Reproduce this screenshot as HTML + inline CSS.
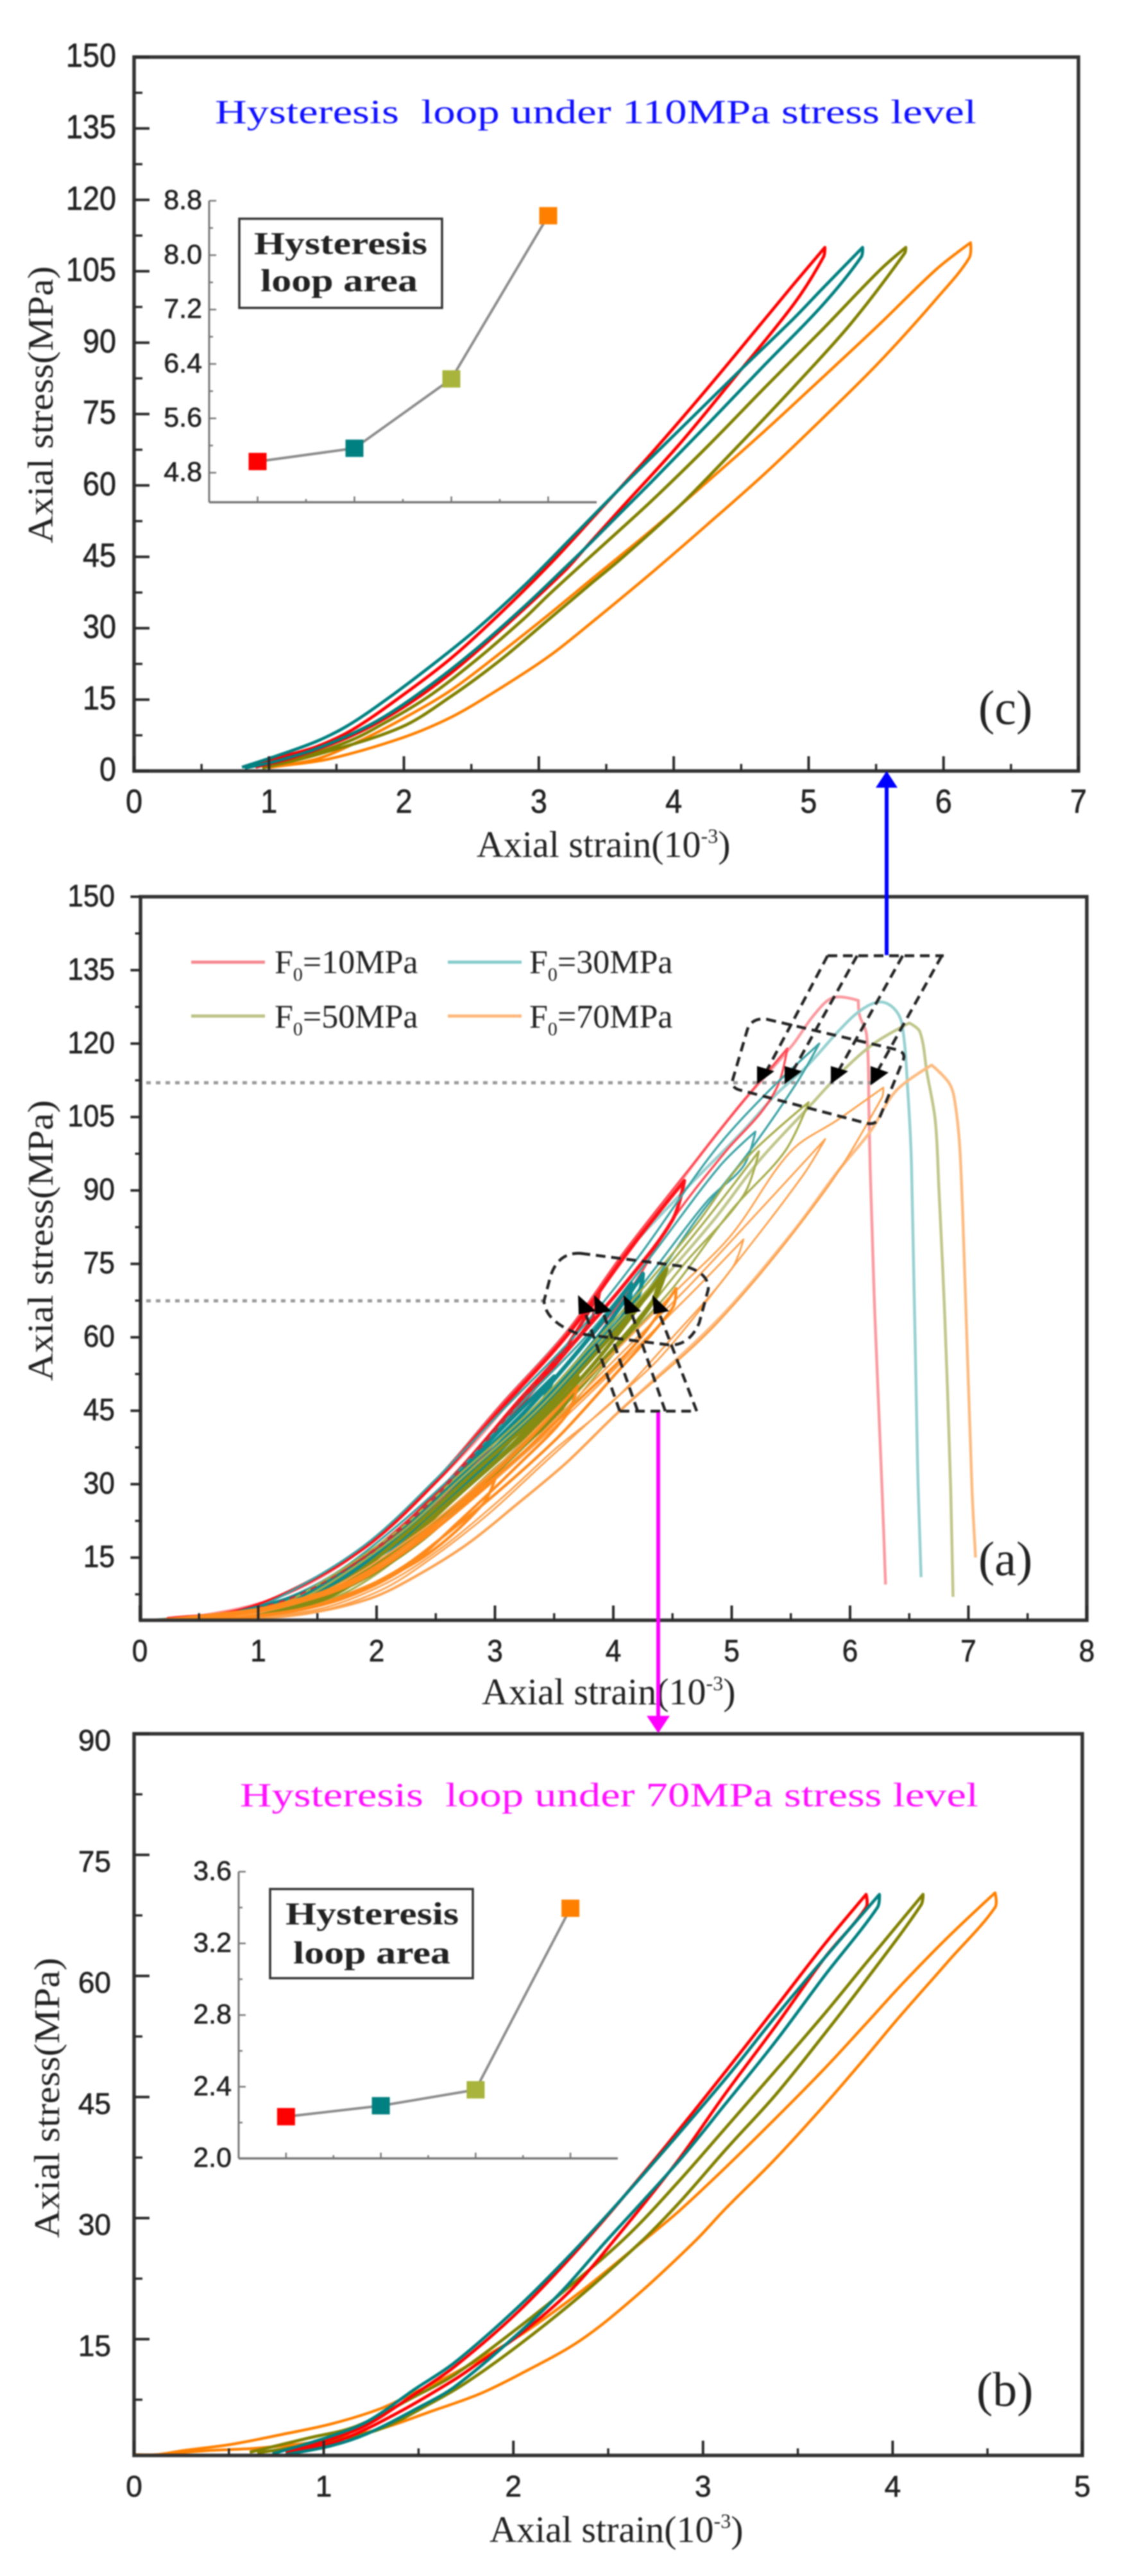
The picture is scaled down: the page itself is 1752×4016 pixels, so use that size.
<!DOCTYPE html>
<html>
<head>
<meta charset="utf-8">
<title>Hysteresis loop charts</title>
<style>
html,body{margin:0;padding:0;background:#fff;}
svg{display:block;filter:blur(1.1px);}
text{font-family:"Liberation Serif",serif;fill:#222;}
.sans{font-family:"Liberation Sans",sans-serif;stroke:#222;stroke-width:.7;}
</style>
</head>
<body>
<svg id="figure" xmlns="http://www.w3.org/2000/svg" width="1752" height="4016" viewBox="0 0 1752 4016">
  <rect x="0" y="0" width="1752" height="4016" fill="#fff"/>
  <g id="panel-c">
    <text x="335" y="192" font-size="53" textLength="1187" lengthAdjust="spacingAndGlyphs" xml:space="preserve" style="fill:#1010ff">Hysteresis  loop under 110MPa stress level</text>
    <text transform="translate(82,847) rotate(-90)" font-size="56" textLength="432" lengthAdjust="spacingAndGlyphs">Axial stress(MPa)</text>
    <text x="743" y="1336" font-size="58">Axial strain(10<tspan font-size="32" dy="-22">-3</tspan><tspan dy="22">)</tspan></text>
    <text x="1525" y="1129" font-size="76">(c)</text>
    <rect x="373" y="341" width="316" height="139" fill="#fff" stroke="#333" stroke-width="3.5"/>
    <text x="396" y="396" font-size="50" font-weight="bold" textLength="270" lengthAdjust="spacingAndGlyphs">Hysteresis</text>
    <text x="406" y="454" font-size="50" font-weight="bold" textLength="245" lengthAdjust="spacingAndGlyphs">loop area</text>
  </g>
  <g id="panel-a">
    <text transform="translate(82,2153) rotate(-90)" font-size="56" textLength="438" lengthAdjust="spacingAndGlyphs">Axial stress(MPa)</text>
    <text x="751" y="2657" font-size="58">Axial strain(10<tspan font-size="32" dy="-22">-3</tspan><tspan dy="22">)</tspan></text>
    <text x="1525" y="2456" font-size="76">(a)</text>
    <g>
      <line x1="298" x2="413" y1="1500" y2="1500" stroke="#f58a90" stroke-width="5"/>
      <text x="428" y="1517" font-size="52">F<tspan font-size="30" dy="12">0</tspan><tspan dy="-12">=10MPa</tspan></text>
      <line x1="698" x2="813" y1="1500" y2="1500" stroke="#86cccc" stroke-width="5"/>
      <text x="825" y="1517" font-size="52">F<tspan font-size="30" dy="12">0</tspan><tspan dy="-12">=30MPa</tspan></text>
      <line x1="298" x2="413" y1="1584" y2="1584" stroke="#bcc286" stroke-width="5"/>
      <text x="428" y="1602" font-size="52">F<tspan font-size="30" dy="12">0</tspan><tspan dy="-12">=50MPa</tspan></text>
      <line x1="698" x2="813" y1="1584" y2="1584" stroke="#fdb87c" stroke-width="5"/>
      <text x="825" y="1602" font-size="52">F<tspan font-size="30" dy="12">0</tspan><tspan dy="-12">=70MPa</tspan></text>
    </g>
  </g>
  <g id="panel-b">
    <text x="374" y="2816" font-size="53" textLength="1151" lengthAdjust="spacingAndGlyphs" xml:space="preserve" style="fill:#ff10ff">Hysteresis  loop under 70MPa stress level</text>
    <text transform="translate(92,3489) rotate(-90)" font-size="56" textLength="437" lengthAdjust="spacingAndGlyphs">Axial stress(MPa)</text>
    <text x="763" y="3963" font-size="58">Axial strain(10<tspan font-size="32" dy="-22">-3</tspan><tspan dy="22">)</tspan></text>
    <text x="1522" y="3751" font-size="76">(b)</text>
    <rect x="421" y="2945" width="316" height="139" fill="#fff" stroke="#333" stroke-width="3.5"/>
    <text x="445" y="3000" font-size="50" font-weight="bold" textLength="270" lengthAdjust="spacingAndGlyphs">Hysteresis</text>
    <text x="457" y="3061" font-size="50" font-weight="bold" textLength="245" lengthAdjust="spacingAndGlyphs">loop area</text>
  </g>
  <g id="annotations">
    <line x1="228" x2="1360" y1="1688" y2="1688" stroke="#9a9a9a" stroke-width="5" stroke-dasharray="7 8"/>
    <line x1="228" x2="880" y1="2028" y2="2028" stroke="#9a9a9a" stroke-width="5" stroke-dasharray="7 8"/>
    <g fill="none" stroke="#222" stroke-width="4.5" stroke-dasharray="15 9">
      <line x1="1290" y1="1490" x2="1471" y2="1490"/>
      <line x1="1290" y1="1490" x2="1193" y2="1673"/>
      <line x1="1336" y1="1490" x2="1234" y2="1673"/>
      <line x1="1407" y1="1490" x2="1305" y2="1673"/>
      <line x1="1468" y1="1490" x2="1366" y2="1673"/>
      <path d="M1195,1589 L1400,1637 Q1412,1642 1408,1652 L1372,1740 Q1366,1755 1350,1751 L1152,1699 Q1138,1695 1143,1680 L1165,1605 Q1172,1586 1195,1589 Z"/>
    </g>
    <g fill="none" stroke="#222" stroke-width="4.5" stroke-dasharray="15 9">
      <line x1="966" y1="2200" x2="1086" y2="2200"/>
      <line x1="966" y1="2200" x2="912" y2="2046"/>
      <line x1="994" y1="2200" x2="940" y2="2046"/>
      <line x1="1037" y1="2200" x2="984" y2="2046"/>
      <line x1="1086" y1="2200" x2="1027" y2="2046"/>
      <path d="M905,1954 L1070,1975 Q1105,1985 1104,2010 L1090,2062 Q1075,2097 1045,2097 L900,2079 Q850,2060 848,2028 L858,1990 Q870,1952 905,1954 Z"/>
    </g>
    <g fill="#000">
      <polygon points="1180,1662 1207,1670 1180,1690"/>
      <polygon points="1223,1662 1250,1670 1223,1690"/>
      <polygon points="1295,1662 1322,1670 1295,1690"/>
      <polygon points="1357,1662 1385,1672 1357,1692"/>
      <polygon points="901,2019 929,2044 902,2049"/>
      <polygon points="926,2019 953,2044 928,2049"/>
      <polygon points="972,2019 999,2044 974,2049"/>
      <polygon points="1017,2019 1043,2044 1019,2049"/>
    </g>
    <line x1="1382" y1="1489" x2="1382" y2="1225" stroke="#0000ff" stroke-width="6"/>
    <polygon points="1382,1202 1365,1228 1399,1228" fill="#0000ff"/>
    <line x1="1026" y1="2202" x2="1026" y2="2680" stroke="#ff00ff" stroke-width="6"/>
    <polygon points="1026,2702 1008,2675 1044,2675" fill="#ff00ff"/>
  </g>
</svg>
<script>
// ---------- Panel (c): loops at 110 MPa, points are [strain, stress] ----------
const cTicksX = [0, 1, 2, 3, 4, 5, 6, 7];
const cTicksY = [0, 15, 30, 45, 60, 75, 90, 105, 120, 135, 150];
const cOrangeLoop = [[1,.7],[1.35,2.5],[1.62,5.6],[1.98,10.8],[2.35,17],[2.71,24.7],[3.08,33],[3.4,40.5],[3.83,50.5],[4.25,60.8],[4.68,71.6],[5.1,82.6],[5.53,94],[5.95,105.5],[6.2,111],[6.19,107.8],[5.95,99.3],[5.53,86.1],[5.1,74],[4.68,62.6],[4.25,51.8],[3.83,41.5],[3.4,31.4],[3.08,24.2],[2.71,17.3],[2.35,11.3],[1.98,6.9],[1.44,2.5],[1.07,1]];
const cOliveLoop = [[.95,.7],[1.35,3.8],[1.62,6.6],[1.8,9.2],[2.17,15.4],[2.53,23.2],[2.89,32],[3.08,37.2],[3.4,45.5],[3.83,56.6],[4.25,68.2],[4.68,80.7],[5.1,92.7],[5.53,105.3],[5.72,110],[5.71,108.7],[5.31,93.9],[4.89,80.7],[4.46,67.8],[4.04,55.6],[3.61,44.6],[3.38,39.2],[3.08,32],[2.71,23.2],[2.35,15.7],[1.98,9.2],[1.35,3.4],[.95,.6]];
const cRedLoop = [[.85,.8],[1.07,2.8],[1.35,5.1],[1.62,8.7],[1.98,15.7],[2.35,23.7],[2.71,33],[3.08,43.4],[3.4,53.2],[3.83,66.6],[4.25,80.4],[4.68,95.1],[4.89,102.3],[5.12,110],[5.11,108],[4.89,98.1],[4.46,83],[4.04,68.6],[3.61,55.2],[3.38,48],[3.19,42],[2.71,29.4],[2.35,20.6],[1.98,13.1],[1.62,7.5],[1.2,3],[.9,.8]];
const cTealLoop = [[.8,.8],[1.07,3.3],[1.35,6.2],[1.57,9.3],[1.8,13.6],[2.17,21.4],[2.53,29.6],[2.89,38.9],[3.26,49.5],[3.61,59.6],[4.04,71.6],[4.46,83.3],[4.89,95.1],[5.1,101.3],[5.4,110],[5.39,108],[5.1,97.8],[4.68,85.5],[4.25,72.8],[3.83,60.6],[3.4,48.4],[3.19,42.6],[2.89,34.5],[2.53,25.5],[2.17,17.5],[1.8,10.5],[1.4,5.2],[1.07,2.2],[.82,.6]];
const cInsetTicks = [4.8, 5.6, 6.4, 7.2, 8.0, 8.8];
const cInsetValues = [4.965, 5.16, 6.18, 8.58];

// ---------- Panel (a): full cyclic curves ----------
const aTicksX = [0, 1, 2, 3, 4, 5, 6, 7, 8];
const aTicksY = [15, 30, 45, 60, 75, 90, 105, 120, 135, 150];
const aRedEnvelope = [[.1,2.2],[.56,3.3],[1.12,6.5],[1.67,13.1],[2.22,24],[2.78,37.3],[3.33,53],[3.88,69.3],[4.26,81.7],[4.76,98],[5.09,108],[5.51,119.6],[5.7,126],[5.86,129.4],[6.07,128.8],[6.08,125.8],[6.14,121.8],[6.16,106],[6.17,94.4],[6.21,64.4],[6.27,29.2],[6.3,9.5]];
const aTealEnvelope = [[.15,2.3],[.84,4.2],[1.39,9.7],[1.95,18],[2.5,30.8],[3.05,46.2],[3.6,60.9],[4.1,77],[4.6,90],[5.09,102],[5.37,109.5],[5.64,115.5],[5.92,123],[6.09,126.8],[6.25,128.5],[6.37,127.2],[6.44,123.8],[6.49,109.5],[6.52,94.4],[6.57,34.3],[6.6,11]];
const aOliveEnvelope = [[.2,2.2],[.9,3.8],[1.5,8.5],[2.2,20],[2.8,33],[3.4,45],[3.9,58],[4.35,70],[4.85,84],[5.23,96],[5.65,107],[5.92,114],[6.2,120],[6.5,124.2],[6.59,122.4],[6.65,114],[6.72,104.3],[6.75,90.6],[6.8,64.4],[6.85,29.2],[6.87,7]];
const aOrangeEnvelope = [[.2,2.2],[.8,2.4],[1.39,3.5],[1.95,6.7],[2.36,11.6],[2.78,18],[3.19,26],[3.6,34.3],[4.02,44.2],[4.88,63.5],[5.5,81],[5.9,94],[6.17,102],[6.39,110.4],[6.69,115.6],[6.84,111.8],[6.89,107.4],[6.93,97.5],[6.97,71.9],[7.03,29.2],[7.06,15]];
const aRedLoops = [
  [[.23,2.5],[.84,4.2],[1.39,9.7],[1.95,18],[2.5,30.8],[3.05,46.2],[3.6,60.9],[4.1,77.7],[4.76,98],[5.09,108],[5.47,119],[5.4,112],[5.25,106],[4.95,98],[4.5,84],[4.15,70],[3.7,57],[3.25,45],[2.75,32],[2.25,20],[1.6,8],[1,3.5],[.5,2.3]],
  [[.23,2.5],[.84,4.2],[1.4,9.7],[1.97,18.4],[2.52,31],[3.08,46.2],[3.63,61],[4.13,77.7],[4.6,92],[4.5,84],[4.1,71],[3.6,57],[3.1,43],[2.6,30],[2.1,19],[1.5,8.5],[.9,4]],
  [[.6,2.8],[1.2,6],[1.7,12],[2.2,21],[2.7,33],[3.2,47],[3.6,58],[3.88,69],[3.8,63],[3.4,52],[2.9,38],[2.4,25],[1.9,15],[1.3,7],[.7,3]]
];
const aTealLoops = [
  [[.3,2.4],[.9,4.2],[1.4,9.8],[1.95,18.5],[2.5,31],[3.1,46],[3.7,61],[4.2,76],[4.85,98],[5.3,110],[5.74,120],[5.55,112],[5.15,98],[4.7,84],[4.3,70],[3.85,57],[3.35,45],[2.85,32],[2.3,20],[1.65,8],[1,3.3],[.5,2.3]],
  [[.5,2.5],[1.1,5.5],[1.6,11],[2.1,20],[2.7,33],[3.2,46],[3.8,61],[4.3,76],[4.9,95],[5.2,102],[5.1,95],[4.8,88],[4.35,74],[3.8,57],[3.3,44],[2.8,32],[2.25,20],[1.6,9],[.9,3.5]],
  [[.7,3],[1.3,7],[1.8,13],[2.3,22],[2.8,34],[3.3,46],[3.8,60],[4.15,71],[4.1,65],[3.6,52],[3.1,39],[2.55,26],[2,15],[1.4,7],[.8,3]],
  [[.9,3.5],[1.5,9],[2,16],[2.5,27],[3,40],[3.5,52],[3.35,45],[2.85,33],[2.3,21],[1.7,10],[1.1,4.5]],
  [[.8,3],[1.4,7.5],[1.9,14],[2.4,23],[2.9,35],[3.4,47],[3.9,61],[4.25,73],[4.2,68],[3.75,55],[3.25,42],[2.75,30],[2.2,19],[1.6,9],[1,3.5]]
];
const aOliveLoops = [
  [[.4,2.4],[1,4],[1.4,8],[2.15,20],[2.7,32],[3.3,45],[3.8,58],[4.25,70],[4.7,83],[5.1,96],[5.65,108],[5.45,98],[5,86],[4.5,70],[4.05,58],[3.6,45],[3.05,32],[2.45,20],[1.75,8],[1.1,3.3],[.6,2.3]],
  [[.5,2.5],[1.1,4.5],[1.5,8.3],[2.2,20],[2.75,32],[3.35,45],[3.85,58],[4.3,70],[4.75,83],[5.23,98],[5.1,89],[4.6,75],[4.1,60],[3.55,45],[3,32],[2.4,20],[1.7,8.5],[1,3.3]],
  [[.7,2.9],[1.3,5.7],[1.75,10.5],[2.3,21],[2.85,33],[3.4,45],[3.9,58],[4.4,72],[4.3,66],[3.8,52],[3.3,40],[2.7,26],[2.1,15],[1.5,6.5],[.9,3]],
  [[.9,3.3],[1.5,7.5],[2,13.5],[2.5,24],[3.1,37],[3.7,52],[3.55,45],[3,33],[2.45,21],[1.8,10],[1.2,4.5]],
  [[1,3.3],[1.6,7],[2.15,16],[2.7,28],[3.3,41],[3.85,55],[4.45,74],[4.35,68],[3.9,55],[3.45,43],[2.9,30],[2.35,18],[1.75,9],[1.1,3.5]]
];
const aOrangeLoops = [
  [[.3,2.3],[.9,3.6],[1.55,8],[2.35,20],[2.95,32],[3.5,45],[4.05,58],[4.55,70],[5,81],[5.5,98],[5.9,104.5],[6.28,111],[6.27,109],[5.79,90],[4.88,63],[4.02,44.2],[3.6,34.3],[3.19,26],[2.78,18],[2.36,11.6],[1.95,6.7],[1.39,3.5],[.8,2.3]],
  [[.5,2.4],[1,3.7],[1.65,8.5],[2.42,20],[3,31],[3.58,45],[4.12,58],[4.62,70],[5.2,85],[5.79,100.5],[5.6,93],[5,74],[4.4,56],[3.9,45],[3.4,34],[2.95,24],[2.5,15.5],[2.05,8.5],[1.5,4],[.8,2.4]],
  [[.5,2.4],[1.1,4.5],[1.75,9.5],[2.5,21],[3.1,33],[3.65,45],[4.2,58],[4.7,70],[5.1,80],[5,74],[4.5,60],[4,47],[3.5,37],[3.05,27],[2.55,17],[2.1,10],[1.55,4.7],[.9,2.6]],
  [[.15,2.2],[.6,3.3],[1.1,5],[1.8,10.5],[2.5,22],[3.1,33.5],[3.7,47],[4.2,59],[4.53,70],[4.5,66],[4,52],[3.55,40],[3.1,30],[2.6,20],[2.15,12],[1.6,6],[1,3],[.4,2.3]],
  [[.3,2.3],[.9,4],[1.5,7.5],[2.1,14],[2.7,26],[3.2,37],[3.7,50],[3.6,44],[3.2,34],[2.7,22.5],[2.25,13],[1.7,6.5],[1.1,3.3],[.5,2.3]],
  [[.6,2.6],[1.2,5],[1.8,9.7],[2.4,19],[3,31],[2.9,26],[2.45,16],[2,10],[1.4,4.7],[.8,2.6]]
];

// ---------- Panel (b): loops at 70 MPa ----------
const bTicksX = [0, 1, 2, 3, 4, 5];
const bTicksY = [15, 30, 45, 60, 75, 90];
const bOrangeLoop = [[0,.7],[.12,.7],[.26,1.2],[.52,2],[.78,3.2],[1.04,4.5],[1.3,6.4],[1.48,8.4],[1.69,10.8],[2.03,15.4],[2.35,20.8],[2.67,26.9],[2.87,30.8],[3.12,36.3],[3.38,42.3],[3.64,48.5],[3.86,54.1],[4.05,59],[4.3,65],[4.54,70.3],[4.54,68.5],[4.3,62],[4.02,54.5],[3.86,50],[3.64,44],[3.38,37.3],[3.12,31.2],[2.96,27.2],[2.65,20.4],[2.35,14.8],[2.03,10.6],[1.82,8.2],[1.56,6],[1.3,3.9],[1,2.4],[.65,1.5],[.39,1.2],[.12,.7]];
const bOliveLoop = [[.61,1],[.91,2.7],[1.17,4.2],[1.48,7.9],[1.69,10.6],[2.03,16.5],[2.32,22],[2.61,28],[2.87,34.5],[3.12,41.2],[3.38,48.2],[3.64,55.3],[3.86,61.6],[4.16,70.1],[4.15,68.8],[3.86,59.5],[3.64,52.8],[3.38,45.2],[3.12,38.5],[2.87,31.8],[2.67,27],[2.35,20.3],[2.03,14.3],[1.75,9.6],[1.56,7],[1.3,3.9],[1.04,2.4],[.65,.9]];
const bRedLoop = [[.8,.9],[1.04,2.6],[1.23,4.4],[1.48,8.2],[1.69,11.6],[2.03,18.5],[2.37,26.9],[2.74,37.1],[3.12,48.2],[3.38,56],[3.64,63.9],[3.86,70.1],[3.86,68.5],[3.64,62.2],[3.38,53.7],[3.12,45.5],[2.87,37.2],[2.54,27.5],[2.3,21],[2.03,15.5],[1.82,12.1],[1.69,10],[1.4,6],[1.1,2.6],[.8,.7]];
const bTealLoop = [[.73,.8],[1.04,3],[1.23,4.8],[1.48,8.8],[1.69,12.1],[2.03,19.1],[2.35,26.7],[2.67,35],[3.12,47.3],[3.38,54.9],[3.64,62.2],[3.93,70.1],[3.92,68.5],[3.64,60],[3.38,51.8],[3.12,44.2],[2.87,37],[2.48,26.9],[2.25,20.8],[2.03,15.8],[1.69,9.1],[1.49,6.4],[1.23,3.3],[1.04,1.8],[.8,.7]];
const bInsetTicks = [2.0, 2.4, 2.8, 3.2, 3.6];
const bInsetValues = [2.233, 2.294, 2.383, 3.396];

const NS = 'http://www.w3.org/2000/svg';

function make(tag, attrs, parent) {
  const node = document.createElementNS(NS, tag);
  for (const key in attrs) node.setAttribute(key, attrs[key]);
  parent.appendChild(node);
  return node;
}
function linearScale(d0, d1, r0, r1) {
  return v => r0 + (v - d0) * (r1 - r0) / (d1 - d0);
}
function unitTangent(a, b, c) {
  const ux = b[0] - a[0], uy = b[1] - a[1], vx = c[0] - b[0], vy = c[1] - b[1];
  const lu = Math.hypot(ux, uy) || 1, lv = Math.hypot(vx, vy) || 1;
  const cos = (ux * vx + uy * vy) / (lu * lv);
  if (a !== b && b !== c && cos < 0.35) return [0, 0];
  const tx = c[0] - a[0], ty = c[1] - a[1], lt = Math.hypot(tx, ty) || 1;
  return [tx / lt, ty / lt];
}
function smoothPath(points, sx, sy) {
  const p = points.map(q => [sx(q[0]), sy(q[1])]);
  const last = p.length - 1;
  const t = p.map((q, i) => unitTangent(p[Math.max(i - 1, 0)], q, p[Math.min(i + 1, last)]));
  let d = 'M' + p[0][0].toFixed(1) + ',' + p[0][1].toFixed(1);
  for (let i = 0; i < last; i++) {
    const len = Math.hypot(p[i + 1][0] - p[i][0], p[i + 1][1] - p[i][1]) / 3;
    d += 'C' + (p[i][0] + t[i][0] * len).toFixed(1) + ',' + (p[i][1] + t[i][1] * len).toFixed(1) + ' ' +
         (p[i + 1][0] - t[i + 1][0] * len).toFixed(1) + ',' + (p[i + 1][1] - t[i + 1][1] * len).toFixed(1) + ' ' +
         p[i + 1][0].toFixed(1) + ',' + p[i + 1][1].toFixed(1);
  }
  return d;
}
function drawCurve(parent, points, sx, sy, color, width, name) {
  const path = make('path', {d: smoothPath(points, sx, sy), fill: 'none', stroke: color, 'stroke-width': width, 'stroke-linejoin': 'round'}, parent);
  
  
  return path;
}
function drawAxes(parent, box, ticksX, ticksY, sx, sy, opts) {
  const frame = make('rect', {x: box.left, y: box.top, width: box.right - box.left, height: box.bottom - box.top, fill: 'none', stroke: '#333', 'stroke-width': 5.5}, parent);
  
  
  ticksX.forEach((v, i) => {
    const x = sx(v);
    const tick = make('line', {x1: x, x2: x, y1: box.bottom, y2: box.bottom - 23, stroke: '#2a2a2a', 'stroke-width': 4}, parent);
    
    
    if (i < ticksX.length - 1) {
      const mx = sx((v + ticksX[i + 1]) / 2);
      const minor = make('line', {x1: mx, x2: mx, y1: box.bottom, y2: box.bottom - 11, stroke: '#2a2a2a', 'stroke-width': 3.5}, parent);
      
      
    }
    const label = make('text', {transform: 'translate(' + x + ',' + opts.xLabelY + ') scale(' + opts.scaleX + ',1)', 'text-anchor': 'middle', 'font-size': opts.fontSize, class: 'sans'}, parent);
    
    
    label.textContent = String(v);
  });
  ticksY.forEach((v, i) => {
    const y = sy(v);
    const tick = make('line', {x1: box.left + opts.yTickDir * 24, x2: box.left, y1: y, y2: y, stroke: '#2a2a2a', 'stroke-width': 4}, parent);
    
    
    const prev = i === 0 ? v - (ticksY[1] - v) : ticksY[i - 1];
    const my = sy((v + prev) / 2);
    if (my <= box.bottom) {
      const minor = make('line', {x1: box.left + opts.yTickDir * 13, x2: box.left, y1: my, y2: my, stroke: '#2a2a2a', 'stroke-width': 3.5}, parent);
      
      
    }
    const label = make('text', {transform: 'translate(' + opts.yLabelX + ',' + (y + opts.fontSize * 0.35 + opts.yLabelShift) + ') scale(' + opts.scaleX + ',1)', 'text-anchor': 'end', 'font-size': opts.fontSize, class: 'sans'}, parent);
    
    
    label.textContent = String(v);
  });
}
function drawInset(parent, box, ticks, values, colors, prefix) {
  const sx = linearScale(0.5, 4.5, box.left, box.right);
  const sy = linearScale(box.yMin, box.yMax, box.bottom, box.top);
  const yAxis = make('line', {x1: box.left, x2: box.left, y1: box.top, y2: box.bottom, stroke: '#777', 'stroke-width': 3}, parent);
  
  
  const xAxis = make('line', {x1: box.left, x2: box.right, y1: box.bottom, y2: box.bottom, stroke: '#777', 'stroke-width': 3.5}, parent);
  
  
  ticks.forEach((v, i) => {
    const y = sy(v);
    const tick = make('line', {x1: box.left + 11, x2: box.left, y1: y, y2: y, stroke: '#777', 'stroke-width': 2.5}, parent);
    
    
    if (i < ticks.length - 1) {
      const my = sy((v + ticks[i + 1]) / 2);
      const minor = make('line', {x1: box.left + 6, x2: box.left, y1: my, y2: my, stroke: '#777', 'stroke-width': 2.5}, parent);
      
      
    }
    const label = make('text', {x: box.left - 11, y: y + 13, 'text-anchor': 'end', 'font-size': 43, class: 'sans'}, parent);
    
    
    label.textContent = v.toFixed(1);
  });
  [1, 1.5, 2, 2.5, 3, 3.5, 4].forEach(c => {
    const major = Number.isInteger(c);
    const tick = make('line', {x1: sx(c), x2: sx(c), y1: box.bottom, y2: box.bottom - (major ? 9 : 5), stroke: '#777', 'stroke-width': 2.5}, parent);
    
    
  });
  const pts = values.map((v, i) => sx(i + 1) + ',' + sy(v)).join(' ');
  const line = make('polyline', {points: pts, fill: 'none', stroke: '#8c8c8c', 'stroke-width': 4}, parent);
  
  
  values.forEach((v, i) => {
    const marker = make('rect', {x: sx(i + 1) - 14, y: sy(v) - 13.5, width: 28, height: 27, fill: colors[i]}, parent);
    
    
  });
}

const insetColors = ['#ff0000', '#008080', '#a8b43c', '#ff8000'];
const cGroup = document.getElementById('panel-c');
const aGroup = document.getElementById('panel-a');
const bGroup = document.getElementById('panel-b');

// Panel C
(function () {
  const box = {left: 209, right: 1681, top: 89, bottom: 1202};
  const sx = linearScale(0, 7, box.left, box.right);
  const sy = linearScale(0, 150, box.bottom, box.top);
  drawCurve(cGroup, cOrangeLoop, sx, sy, '#ff8000', 4.4, 'loop-70mpa');
  drawCurve(cGroup, cOliveLoop, sx, sy, '#808000', 4.8, 'loop-50mpa');
  drawCurve(cGroup, cRedLoop, sx, sy, '#ff0000', 4.8, 'loop-10mpa');
  drawCurve(cGroup, cTealLoop, sx, sy, '#008080', 4.8, 'loop-30mpa');
  drawAxes(cGroup, box, cTicksX, cTicksY, sx, sy, {prefix: 'panel-c', xLabelY: 1267, yLabelX: 181, fontSize: 52, scaleX: 0.9, yTickDir: 1, yLabelShift: -3});
  drawInset(cGroup, {left: 326, right: 930, top: 313, bottom: 783, yMin: 4.366, yMax: 8.8}, cInsetTicks, cInsetValues, insetColors, 'panel-c-inset');
})();

// Panel A
(function () {
  const box = {left: 219, right: 1694, top: 1398, bottom: 2526};
  const sx = linearScale(0, 8, 218, box.right);
  const sy = linearScale(2.2, 150, box.bottom, box.top);
  drawCurve(aGroup, aRedEnvelope, sx, sy, '#fa9aa0', 4.5, 'envelope-10mpa');
  drawCurve(aGroup, aTealEnvelope, sx, sy, '#96d0d0', 4.5, 'envelope-30mpa');
  drawCurve(aGroup, aOliveEnvelope, sx, sy, '#c0c68a', 4.5, 'envelope-50mpa');
  drawCurve(aGroup, aOrangeEnvelope, sx, sy, '#fdbb80', 4.5, 'envelope-70mpa');
  aRedLoops.forEach((l, i) => drawCurve(aGroup, l, sx, sy, i === 0 ? '#ff4a54' : '#ff1018', i === 0 ? 3.4 : 5.5, 'cycle-10mpa'));
  aTealLoops.forEach((l, i) => drawCurve(aGroup, l, sx, sy, i < 2 ? '#3aa2a4' : '#0e8a8e', i < 2 ? 3.2 : 6.5, 'cycle-30mpa'));
  aOliveLoops.forEach((l, i) => drawCurve(aGroup, l, sx, sy, i < 2 ? '#a6ac4a' : '#858c14', i < 2 ? 3.2 : 6, 'cycle-50mpa'));
  const dashedRed = drawCurve(aGroup, aRedLoops[2], sx, sy, '#c8303a', 2.5, 'cycle-10mpa-overlay');
  dashedRed.setAttribute('stroke-dasharray', '9 9');
  aOrangeLoops.forEach((l, i) => drawCurve(aGroup, l, sx, sy, i >= 3 ? '#ff8a1c' : '#fca04a', i >= 3 ? 4.4 : 2.8, 'cycle-70mpa'));
  drawAxes(aGroup, box, aTicksX, aTicksY, sx, sy, {prefix: 'panel-a', xLabelY: 2590, yLabelX: 179, fontSize: 48, scaleX: 0.92, yTickDir: -0.65, yLabelShift: -2});
})();

// Panel B
(function () {
  const box = {left: 209, right: 1687, top: 2703, bottom: 3828};
  const sx = linearScale(0, 5, box.left, box.right);
  const sy = linearScale(0.6, 90, box.bottom, box.top);
  drawCurve(bGroup, bOrangeLoop, sx, sy, '#ff8000', 4.4, 'loop-70mpa');
  drawCurve(bGroup, bOliveLoop, sx, sy, '#808000', 4.8, 'loop-50mpa');
  drawCurve(bGroup, bRedLoop, sx, sy, '#ff0000', 4.8, 'loop-10mpa');
  drawCurve(bGroup, bTealLoop, sx, sy, '#008080', 4.8, 'loop-30mpa');
  drawAxes(bGroup, box, bTicksX, bTicksY, sx, sy, {prefix: 'panel-b', xLabelY: 3892, yLabelX: 173, fontSize: 46, scaleX: 1, yTickDir: 1, yLabelShift: 10});
  drawInset(bGroup, {left: 372, right: 963, top: 2918, bottom: 3365, yMin: 2.0, yMax: 3.6}, bInsetTicks, bInsetValues, insetColors, 'panel-b-inset');
})();
</script>
</body>
</html>
